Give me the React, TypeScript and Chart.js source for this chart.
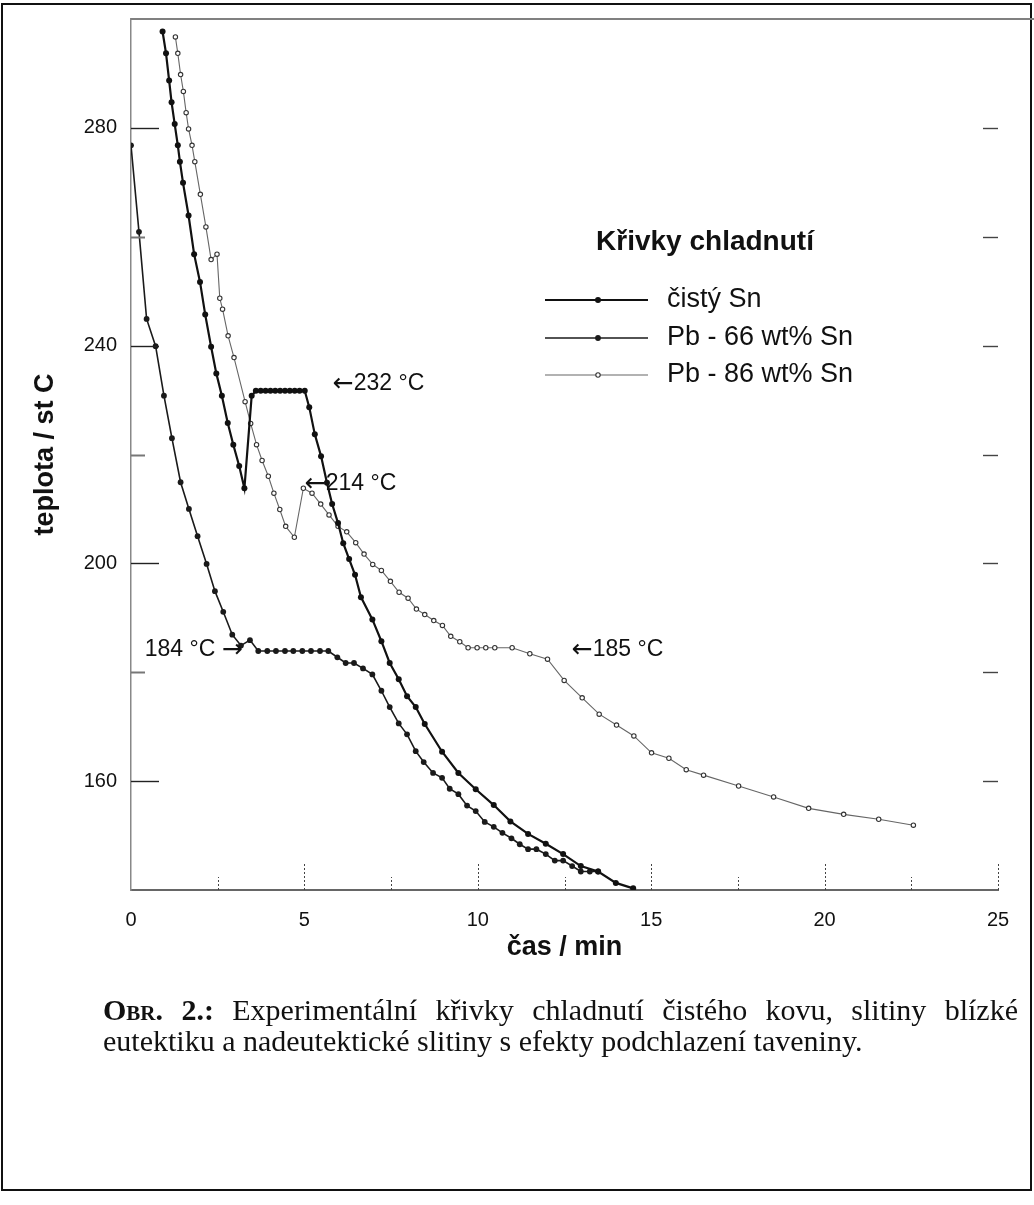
import React, { useEffect, useRef } from 'react';
import { Chart, registerables } from 'chart.js';

Chart.register(...registerables);

// ---- data ----
const snTime = [0.91, 1.01, 1.1, 1.17, 1.26, 1.35, 1.41, 1.5, 1.66, 1.82, 1.99, 2.14, 2.31, 2.46, 2.62, 2.79, 2.95, 3.12, 3.27, 3.48, 3.6, 3.74, 3.88, 4.02, 4.16, 4.3, 4.44, 4.58, 4.72, 4.86, 5.01, 5.14, 5.3, 5.48, 5.65, 5.8, 5.97, 6.12, 6.29, 6.46, 6.63, 6.96, 7.22, 7.46, 7.72, 7.96, 8.21, 8.47, 8.97, 9.44, 9.94, 10.46, 10.94, 11.45, 11.96, 12.46, 12.97, 13.47, 13.98, 14.48];
const snTemp = [297.7, 293.7, 288.7, 284.7, 280.7, 276.8, 273.8, 269.9, 263.9, 256.8, 251.7, 245.7, 239.8, 234.9, 230.8, 225.8, 221.8, 217.9, 213.8, 230.8, 231.7, 231.7, 231.7, 231.7, 231.7, 231.7, 231.7, 231.7, 231.7, 231.7, 231.7, 228.7, 223.7, 219.7, 214.8, 210.9, 207.4, 203.7, 200.8, 197.9, 193.8, 189.7, 185.7, 181.7, 178.7, 175.6, 173.6, 170.5, 165.4, 161.5, 158.5, 155.6, 152.6, 150.3, 148.5, 146.6, 144.4, 143.4, 141.3, 140.3];

const pb66Time = [0.0, 0.23, 0.45, 0.71, 0.95, 1.18, 1.43, 1.67, 1.92, 2.18, 2.42, 2.66, 2.92, 3.17, 3.43, 3.67, 3.93, 4.18, 4.44, 4.68, 4.94, 5.19, 5.45, 5.69, 5.95, 6.19, 6.43, 6.69, 6.96, 7.22, 7.46, 7.72, 7.96, 8.21, 8.44, 8.71, 8.97, 9.19, 9.44, 9.69, 9.94, 10.2, 10.46, 10.71, 10.97, 11.21, 11.45, 11.69, 11.96, 12.22, 12.46, 12.72, 12.97, 13.23, 13.47];
const pb66Temp = [276.8, 260.9, 244.9, 239.9, 230.8, 223.0, 214.9, 210.0, 205.0, 199.9, 194.9, 191.1, 186.9, 184.9, 185.9, 183.9, 183.9, 183.9, 183.9, 183.9, 183.9, 183.9, 183.9, 183.9, 182.75, 181.7, 181.7, 180.7, 179.6, 176.6, 173.6, 170.6, 168.6, 165.5, 163.5, 161.5, 160.6, 158.6, 157.6, 155.5, 154.5, 152.5, 151.6, 150.5, 149.5, 148.4, 147.5, 147.5, 146.6, 145.4, 145.4, 144.4, 143.4, 143.4, 143.4];

const pb86Time = [1.28, 1.35, 1.43, 1.51, 1.59, 1.66, 1.76, 1.84, 2.0, 2.16, 2.31, 2.48, 2.56, 2.64, 2.8, 2.97, 3.29, 3.45, 3.62, 3.78, 3.96, 4.12, 4.29, 4.46, 4.71, 4.97, 5.22, 5.47, 5.71, 5.97, 6.22, 6.48, 6.72, 6.97, 7.22, 7.48, 7.73, 7.99, 8.23, 8.47, 8.73, 8.98, 9.22, 9.48, 9.72, 9.98, 10.23, 10.49, 10.99, 11.5, 12.01, 12.49, 13.01, 13.5, 14.0, 14.5, 15.01, 15.51, 16.01, 16.51, 17.52, 18.53, 19.54, 20.55, 21.56, 22.56];
const pb86Temp = [296.7, 293.7, 289.8, 286.7, 282.8, 279.8, 276.8, 273.8, 267.8, 261.8, 255.8, 256.8, 248.7, 246.7, 241.8, 237.8, 229.7, 225.7, 221.8, 218.9, 216.0, 212.9, 209.9, 206.8, 204.8, 213.8, 212.9, 210.9, 208.9, 206.8, 205.8, 203.8, 201.7, 199.8, 198.7, 196.7, 194.7, 193.6, 191.6, 190.6, 189.5, 188.6, 186.6, 185.6, 184.5, 184.5, 184.5, 184.5, 184.5, 183.4, 182.4, 178.5, 175.3, 172.3, 170.3, 168.3, 165.2, 164.2, 162.1, 161.1, 159.1, 157.1, 155.0, 153.9, 153.0, 151.9];

const seriesLabels = ['čistý Sn', 'Pb - 66 wt% Sn', 'Pb - 86 wt% Sn'];
const legendTitle = 'Křivky chladnutí';
const xAxisTitle = 'čas / min';
const yAxisTitle = 'teplota / st C';
const yLabeledTicks = [160, 200, 240, 280];
const xLabelStep = 5;

const annoTexts = ['←232 °C', '←214 °C', '184 °C →', '←185 °C'];
const annoTime = [5.82, 5.01, 3.22, 12.71];
const annoTemp = [233.0, 214.7, 184.2, 184.2];

// ---- styles ----
const SANS = "'Liberation Sans', Arial, Helvetica, sans-serif";
const SERIF = "'Liberation Serif', 'Times New Roman', serif";
const ARROW_FONT = "'DejaVu Sans', 'Liberation Sans', sans-serif";
const annoAlign = ['left', 'left', 'right', 'left'];

const toPoints = (xs: number[], ys: number[]) => xs.map((x, i) => ({ x, y: ys[i] }));

function drawAnno(ctx: CanvasRenderingContext2D, txt: string, x: number, y: number, align: string) {
  const parts = txt.split(/([←→])/).filter((p) => p.length > 0);
  const isArrow = (p: string) => p === '←' || p === '→';
  const fonts = parts.map((p) => (isArrow(p) ? `25px ${ARROW_FONT}` : `23px ${SANS}`));
  const widths = parts.map((p, i) => {
    ctx.font = fonts[i];
    return ctx.measureText(p).width;
  });
  const total = widths.reduce((s, w) => s + w, 0);
  let cx = align === 'right' ? x - total : x;
  ctx.textAlign = 'left';
  parts.forEach((p, i) => {
    ctx.font = fonts[i];
    ctx.fillText(p, cx, y + (isArrow(p) ? 1 : 0));
    cx += widths[i];
  });
}

const framePlugin = {
  id: 'frameDecor',
  afterDraw(chart: any) {
    const { ctx, chartArea: a } = chart;
    const xs = chart.scales.x;
    const ys = chart.scales.y;
    ctx.save();
    // top frame line
    ctx.strokeStyle = '#808080';
    ctx.lineWidth = 2;
    ctx.beginPath();
    ctx.moveTo(a.left, a.top);
    ctx.lineTo(chart.width, a.top);
    ctx.stroke();

    // y ticks (left inward, right inward)
    ys.ticks.forEach((t: any) => {
      const v = t.value;
      if (v <= ys.min || v >= ys.max) return;
      const py = Math.round(ys.getPixelForValue(v)) + 0.5;
      const major = yLabeledTicks.includes(v);
      ctx.strokeStyle = major ? '#222' : '#777';
      ctx.lineWidth = major ? 1.4 : 2;
      ctx.beginPath();
      ctx.moveTo(a.left, py);
      ctx.lineTo(a.left + (major ? 28 : 14), py);
      ctx.stroke();
      ctx.strokeStyle = '#444';
      ctx.lineWidth = 1.4;
      ctx.beginPath();
      ctx.moveTo(a.right - 15, py);
      ctx.lineTo(a.right, py);
      ctx.stroke();
    });

    // x ticks (dotted, upward)
    ctx.setLineDash([2, 2]);
    ctx.strokeStyle = '#444';
    ctx.lineWidth = 1;
    xs.ticks.forEach((t: any) => {
      const v = t.value;
      if (v <= xs.min) return;
      const px = Math.round(xs.getPixelForValue(v)) + 0.5;
      const major = Math.abs(v % xLabelStep) < 1e-9;
      ctx.beginPath();
      ctx.moveTo(px, a.bottom);
      ctx.lineTo(px, a.bottom - (major ? 27 : 13));
      ctx.stroke();
    });
    ctx.setLineDash([]);

    // annotations
    ctx.fillStyle = '#111';
    ctx.textBaseline = 'middle';
    annoTexts.forEach((txt, i) => {
      drawAnno(ctx, txt, xs.getPixelForValue(annoTime[i]), ys.getPixelForValue(annoTemp[i]), annoAlign[i]);
    });

    // legend
    ctx.textAlign = 'center';
    ctx.font = `bold 28px ${SANS}`;
    ctx.fillText(legendTitle, 705, 242);
    const rowY = [300, 338, 375];
    chart.data.datasets.forEach((ds: any, i: number) => {
      const y = rowY[i];
      ctx.strokeStyle = ds.borderColor;
      ctx.lineWidth = ds.borderWidth;
      ctx.beginPath();
      ctx.moveTo(545, y);
      ctx.lineTo(648, y);
      ctx.stroke();
      ctx.beginPath();
      ctx.arc(598, y, ds.pointRadius, 0, Math.PI * 2);
      ctx.fillStyle = ds.pointBackgroundColor;
      ctx.fill();
      ctx.lineWidth = ds.pointBorderWidth;
      ctx.strokeStyle = ds.pointBorderColor;
      if (ds.pointBorderWidth > 0) ctx.stroke();
      ctx.fillStyle = '#111';
      ctx.textAlign = 'left';
      ctx.font = `27px ${SANS}`;
      ctx.fillText(ds.label, 667, y);
    });
    ctx.restore();
  },
};

export default function App() {
  const ref = useRef<HTMLCanvasElement>(null);

  useEffect(() => {
    const canvas = ref.current;
    if (!canvas) return;
    const chart = new Chart(canvas, {
      type: 'scatter',
      data: {
        datasets: [
          {
            label: seriesLabels[0],
            data: toPoints(snTime, snTemp),
            showLine: true,
            borderColor: '#111',
            borderWidth: 2.2,
            pointRadius: 3,
            pointBackgroundColor: '#111',
            pointBorderColor: '#111',
            pointBorderWidth: 0,
          },
          {
            label: seriesLabels[1],
            data: toPoints(pb66Time, pb66Temp),
            showLine: true,
            borderColor: '#1a1a1a',
            borderWidth: 1.6,
            pointRadius: 2.9,
            pointBackgroundColor: '#1a1a1a',
            pointBorderColor: '#1a1a1a',
            pointBorderWidth: 0,
          },
          {
            label: seriesLabels[2],
            data: toPoints(pb86Time, pb86Temp),
            showLine: true,
            borderColor: '#666',
            borderWidth: 1.1,
            pointRadius: 2.2,
            pointBackgroundColor: '#fff',
            pointBorderColor: '#333',
            pointBorderWidth: 1.1,
          },
        ],
      },
      options: {
        animation: false,
        responsive: false,
        events: [],
        layout: { padding: { top: 19, right: 36, left: 0, bottom: 0 } },
        plugins: { legend: { display: false }, tooltip: { enabled: false } },
        scales: {
          x: {
            type: 'linear',
            min: 0,
            max: 25,
            grid: { display: false, drawTicks: false },
            border: { display: true, color: '#666', width: 2 },
            ticks: {
              stepSize: 2.5,
              autoSkip: false,
              maxRotation: 0,
              padding: 18,
              color: '#111',
              font: { family: SANS, size: 20 },
              callback: (v: any) => (Math.abs(Number(v) % xLabelStep) < 1e-9 ? String(v) : ''),
            },
            title: {
              display: true,
              text: xAxisTitle,
              color: '#111',
              font: { family: SANS, size: 27, weight: 'bold' },
              padding: { top: 0, bottom: 36 },
            },
            afterFit: (s: any) => {
              s.height = 110;
              s.paddingLeft = 0;
              s.paddingRight = 0;
            },
          },
          y: {
            type: 'linear',
            min: 140,
            max: 300,
            grid: { display: false, drawTicks: false },
            border: { display: true, color: '#888', width: 1.5, dash: [2, 2] },
            ticks: {
              stepSize: 20,
              autoSkip: false,
              padding: 14,
              color: '#111',
              font: { family: SANS, size: 20 },
              callback: (v: any) => (yLabeledTicks.includes(Number(v)) ? String(v) : ''),
            },
            title: {
              display: true,
              text: yAxisTitle,
              color: '#111',
              font: { family: SANS, size: 27, weight: 'bold' },
              padding: { top: 29, bottom: 0 },
            },
            afterFit: (s: any) => {
              s.width = 131;
              s.paddingTop = 0;
              s.paddingBottom = 0;
            },
          },
        },
      },
      plugins: [framePlugin],
    } as any);
    return () => chart.destroy();
  }, []);

  return (
    <div style={{ position: 'absolute', left: 0, top: 0, width: 1034, height: 1205, background: '#fff', overflow: 'hidden' }}>
      <div
        style={{
          position: 'absolute',
          left: 1,
          top: 3,
          width: 1031,
          height: 1188,
          border: '2px solid #111',
          boxSizing: 'border-box',
        }}
      />
      <canvas ref={ref} width={1034} height={1000} style={{ position: 'absolute', left: 0, top: 0 }} />
      <div
        style={{
          position: 'absolute',
          left: 103,
          top: 994,
          width: 915,
          fontFamily: SERIF,
          fontSize: 30,
          lineHeight: '31px',
          textAlign: 'justify',
          color: '#111',
        }}
      >
        <b>
          O<span style={{ fontVariant: 'small-caps' }}>br</span>. 2.:
        </b>{' '}
        Experimentální křivky chladnutí čistého kovu, slitiny blízké eutektiku a nadeutektické slitiny s efekty podchlazení taveniny.
      </div>
    </div>
  );
}
